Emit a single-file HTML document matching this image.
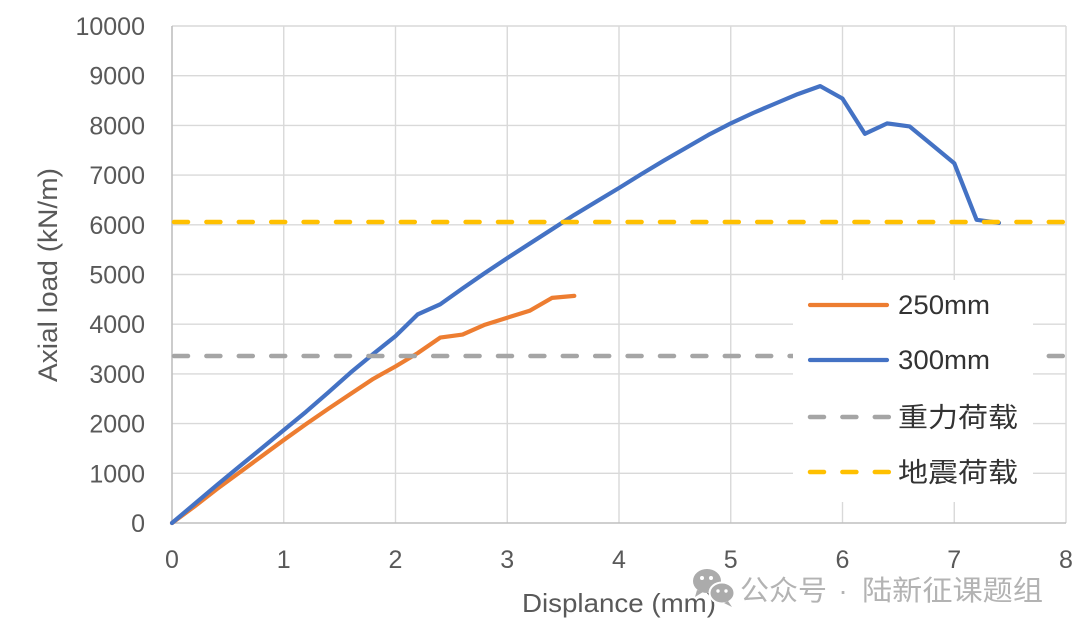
<!DOCTYPE html>
<html>
<head>
<meta charset="utf-8">
<style>
  html,body{margin:0;padding:0;background:#fff;}
  svg{display:block;}
  text{font-family:"Liberation Sans","Noto Sans CJK SC",sans-serif;}
</style>
</head>
<body>
<svg width="1080" height="632" viewBox="0 0 1080 632" xmlns="http://www.w3.org/2000/svg">
  <rect x="0" y="0" width="1080" height="632" fill="#fff"/>
  <!-- grid -->
  <g stroke="#d9d9d9" stroke-width="1.4" fill="none">
    <line x1="283.75" y1="26" x2="283.75" y2="523"/>
    <line x1="395.5" y1="26" x2="395.5" y2="523"/>
    <line x1="507.25" y1="26" x2="507.25" y2="523"/>
    <line x1="619" y1="26" x2="619" y2="523"/>
    <line x1="730.75" y1="26" x2="730.75" y2="523"/>
    <line x1="842.5" y1="26" x2="842.5" y2="523"/>
    <line x1="954.25" y1="26" x2="954.25" y2="523"/>
    <line x1="1066" y1="26" x2="1066" y2="523"/>
    <line x1="172" y1="473.3" x2="1066" y2="473.3"/>
    <line x1="172" y1="423.6" x2="1066" y2="423.6"/>
    <line x1="172" y1="373.9" x2="1066" y2="373.9"/>
    <line x1="172" y1="324.2" x2="1066" y2="324.2"/>
    <line x1="172" y1="274.5" x2="1066" y2="274.5"/>
    <line x1="172" y1="224.8" x2="1066" y2="224.8"/>
    <line x1="172" y1="175.1" x2="1066" y2="175.1"/>
    <line x1="172" y1="125.4" x2="1066" y2="125.4"/>
    <line x1="172" y1="75.7" x2="1066" y2="75.7"/>
    <line x1="172" y1="26" x2="1066" y2="26"/>
  </g>
  <!-- axes -->
  <g stroke="#bfbfbf" stroke-width="1.6">
    <line x1="172" y1="26" x2="172" y2="523"/>
    <line x1="172" y1="523" x2="1066" y2="523"/>
  </g>
  <!-- y tick labels -->
  <g font-size="25" fill="#595959" text-anchor="end">
    <text x="145" y="532">0</text>
    <text x="145" y="482.3">1000</text>
    <text x="145" y="432.6">2000</text>
    <text x="145" y="382.9">3000</text>
    <text x="145" y="333.2">4000</text>
    <text x="145" y="283.5">5000</text>
    <text x="145" y="233.8">6000</text>
    <text x="145" y="184.1">7000</text>
    <text x="145" y="134.4">8000</text>
    <text x="145" y="84.7">9000</text>
    <text x="145" y="35">10000</text>
  </g>
  <!-- x tick labels -->
  <g font-size="25" fill="#595959" text-anchor="middle">
    <text x="172" y="568">0</text>
    <text x="283.75" y="568">1</text>
    <text x="395.5" y="568">2</text>
    <text x="507.25" y="568">3</text>
    <text x="619" y="568">4</text>
    <text x="730.75" y="568">5</text>
    <text x="842.5" y="568">6</text>
    <text x="954.25" y="568">7</text>
    <text x="1066" y="568">8</text>
  </g>
  <!-- axis titles -->
  <text x="619" y="612" font-size="26" fill="#595959" text-anchor="middle" textLength="194" lengthAdjust="spacingAndGlyphs">Displance (mm)</text>
  <text transform="translate(57,275) rotate(-90)" x="0" y="0" font-size="27" fill="#595959" text-anchor="middle" textLength="214" lengthAdjust="spacingAndGlyphs">Axial load (kN/m)</text>

  <!-- series -->
  <polyline fill="none" stroke="#ED7D31" stroke-width="4.2" stroke-linejoin="round" stroke-linecap="round"
    points="172,523 194.35,506.6 216.7,489.2 239.05,472.8 261.4,456.4 283.75,440 306.1,424.1 328.45,408.7 350.8,393.8 373.15,378.9 395.5,366.4 417.85,353 440.2,337.6 462.55,334.6 484.9,324.7 507.25,317.7 529.6,310.8 551.95,297.9 574.3,295.9"/>
  <polyline fill="none" stroke="#4472C4" stroke-width="4.2" stroke-linejoin="round" stroke-linecap="round"
    points="172,523 194.35,504.1 216.7,485.2 239.05,466.8 261.4,448.5 283.75,430.1 306.1,411.7 328.45,392.3 350.8,372.4 373.15,354 395.5,336.1 417.85,314.3 440.2,304.3 462.55,288.4 484.9,273 507.25,258.1 529.6,243.7 551.95,229.3 574.3,214.9 596.65,201.4 619,188 641.35,174.1 663.7,160.7 686.05,147.8 708.4,134.9 730.75,123.4 753.1,113 775.45,103.5 797.8,94.1 820.15,86.1 842.5,98.6 864.85,133.8 887.2,123.4 909.55,126.4 931.9,144.8 954.25,163.2 976.6,219.8 998.95,222.8"/>
  <line x1="174" y1="356" x2="1066" y2="356" stroke="#A5A5A5" stroke-width="4.5" stroke-linecap="round" stroke-dasharray="14 18.4"/>
  <line x1="174" y1="222" x2="1066" y2="222" stroke="#FFC000" stroke-width="4.5" stroke-linecap="round" stroke-dasharray="14 18.4"/>

  <!-- legend -->
  <rect x="793" y="280" width="240" height="222" fill="#fff"/>
  <line x1="810" y1="305" x2="887" y2="305" stroke="#ED7D31" stroke-width="4.2" stroke-linecap="round"/>
  <line x1="810" y1="360" x2="887" y2="360" stroke="#4472C4" stroke-width="4.2" stroke-linecap="round"/>
  <line x1="810" y1="417" x2="889" y2="417" stroke="#A5A5A5" stroke-width="4.5" stroke-linecap="round" stroke-dasharray="14 18.4"/>
  <line x1="810" y1="472" x2="889" y2="472" stroke="#FFC000" stroke-width="4.5" stroke-linecap="round" stroke-dasharray="14 18.4"/>
  <g font-size="27" fill="#333">
    <text x="898" y="314" textLength="92" lengthAdjust="spacingAndGlyphs">250mm</text>
    <text x="898" y="369" textLength="92" lengthAdjust="spacingAndGlyphs">300mm</text>
    <text x="898" y="427" textLength="120" lengthAdjust="spacingAndGlyphs">重力荷载</text>
    <text x="898" y="482" textLength="120" lengthAdjust="spacingAndGlyphs">地震荷载</text>
  </g>

  <!-- watermark -->
  <g>
    <ellipse cx="707" cy="581" rx="14" ry="12" fill="#ababab"/>
    <path d="M697 590 L695 597 L703 592 Z" fill="#ababab"/>
    <ellipse cx="722" cy="593" rx="12.5" ry="10.5" fill="#ababab" stroke="#fff" stroke-width="2"/>
    <path d="M728 601 L732 607 L724 603 Z" fill="#ababab"/>
    <circle cx="702" cy="578" r="2" fill="#fff"/>
    <circle cx="711" cy="578" r="2" fill="#fff"/>
    <circle cx="718" cy="591" r="1.7" fill="#fff"/>
    <circle cx="726" cy="591" r="1.7" fill="#fff"/>
  </g>
  <g font-size="28" fill="#b3b3b3" style="font-family:'Noto Sans CJK SC','Liberation Sans',sans-serif;">
    <text x="740" y="600" textLength="87" lengthAdjust="spacingAndGlyphs">公众号</text>
    <text x="843" y="600" text-anchor="middle">·</text>
    <text x="862" y="600" textLength="181" lengthAdjust="spacingAndGlyphs">陆新征课题组</text>
  </g>
</svg>
</body>
</html>
